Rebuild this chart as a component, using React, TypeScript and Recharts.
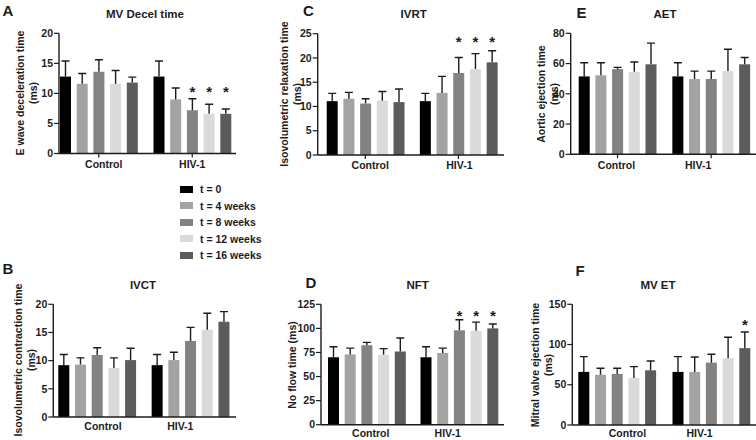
import React from "react";
import { BarChart, Bar, XAxis, YAxis } from "recharts";

const groups = ["Control", "HIV-1"];
const timeLabels = ["t = 0", "t = 4 weeks", "t = 8 weeks", "t = 12 weeks", "t = 16 weeks"];
const barColors = ["#000000", "#a3a3a3", "#838383", "#dadada", "#5c5c5c"];

// A: MV Decel time
const mvDecelControl = [12.8, 11.6, 13.6, 11.6, 11.8];
const mvDecelControlSd = [2.6, 1.7, 2.0, 2.2, 0.9];
const mvDecelHiv = [12.8, 9.0, 7.2, 6.6, 6.6];
const mvDecelHivSd = [2.6, 1.9, 1.9, 1.6, 0.8];
const mvDecelStars = [0, 0, 1, 1, 1];
const mvDecelTicks = [0, 5, 10, 15, 20];

// C: IVRT
const ivrtControl = [11.1, 11.6, 10.6, 11.2, 10.9];
const ivrtControlSd = [1.6, 1.3, 1.0, 1.9, 2.7];
const ivrtHiv = [11.1, 12.8, 16.9, 17.7, 19.1];
const ivrtHivSd = [1.6, 3.4, 3.2, 3.2, 2.4];
const ivrtStars = [0, 0, 1, 1, 1];
const ivrtTicks = [0, 5, 10, 15, 20, 25];

// E: AET
const aetControl = [51.5, 52.2, 56.3, 54.5, 59.5];
const aetControlSd = [9, 8.3, 1.2, 6.5, 14];
const aetHiv = [51.5, 49.8, 49.8, 55, 59.5];
const aetHivSd = [9, 5.2, 5.2, 14.5, 4.5];
const aetStars = [0, 0, 0, 0, 0];
const aetTicks = [0, 20, 40, 60, 80];

// B: IVCT
const ivctControl = [9.2, 9.3, 11.0, 8.7, 10.1];
const ivctControlSd = [1.9, 1.2, 1.3, 1.8, 2.1];
const ivctHiv = [9.2, 10.1, 13.5, 15.5, 16.9];
const ivctHivSd = [1.9, 1.4, 2.4, 2.9, 1.8];
const ivctStars = [0, 0, 1, 1, 1];
const ivctTicks = [0, 5, 10, 15, 20];

// D: NFT
const nftControl = [70, 73, 82.5, 72.5, 76];
const nftControlSd = [11, 6.5, 3, 6.5, 14];
const nftHiv = [70, 74.5, 98, 97.5, 100];
const nftHivSd = [11, 5, 11, 9, 4.5];
const nftStars = [0, 0, 1, 1, 1];
const nftTicks = [0, 25, 50, 75, 100, 125];

// F: MV ET
const mvEtControl = [66, 62.5, 63.5, 58.5, 68];
const mvEtControlSd = [19, 8, 7, 14, 11.5];
const mvEtHiv = [66, 66, 77.5, 83, 95.5];
const mvEtHivSd = [19, 18.5, 10.5, 26, 20];
const mvEtStars = [0, 0, 0, 0, 1];
const mvEtTicks = [0, 50, 100, 150];

const FONT = "'Liberation Sans', Arial, Helvetica, sans-serif";
const INK = "#1c1c1c";

function buildRows(ctrl: number[], ctrlSd: number[], hiv: number[], hivSd: number[], stars: number[]) {
  return groups.map((g, gi) => {
    const row: any = { group: g };
    const means = gi === 0 ? ctrl : hiv;
    const sds = gi === 0 ? ctrlSd : hivSd;
    timeLabels.forEach((_, i) => {
      row[`m${i}`] = means[i];
      row[`sd${i}`] = sds[i];
      row[`star${i}`] = gi === 1 ? stars[i] : 0;
    });
    return row;
  });
}

const makeShape = (i: number, starLevel: number, barTicks: boolean) => (props: any) => {
  const { x, y, width, height, payload, fill } = props;
  const value = payload[`m${i}`];
  const sd = payload[`sd${i}`];
  const ppu = value ? height / value : 0;
  const cx = x + width / 2;
  const yTop = y - sd * ppu;
  const base = y + height;
  const starY = base - starLevel * ppu;
  const fs = 15;
  return (
    <g>
      <rect x={x} y={y} width={width} height={height} fill={fill} />
      <line x1={cx} x2={cx} y1={y} y2={yTop} stroke={INK} strokeWidth={1.4} />
      <line x1={cx - 4} x2={cx + 4} y1={yTop} y2={yTop} stroke={INK} strokeWidth={1.4} />
      {barTicks ? <line x1={cx} x2={cx} y1={base} y2={base + 3.5} stroke={INK} strokeWidth={1} /> : null}
      {payload[`star${i}`] ? (
        <text x={cx} y={starY + 0.57 * fs} textAnchor="middle" fontSize={fs} fontWeight={700} fontFamily={FONT} fill={INK}>
          *
        </text>
      ) : null}
    </g>
  );
};

const makeTick = (shifts: number[]) => (props: any) => {
  const { x, y, payload, index } = props;
  return (
    <text
      x={x + (shifts[index] || 0)}
      y={y}
      dy="0.71em"
      textAnchor="middle"
      fontSize={10.5}
      fontWeight={700}
      fontFamily={FONT}
      fill={INK}
    >
      {payload.value}
    </text>
  );
};

type PanelProps = {
  left: number;
  top: number;
  width: number;
  height: number;
  plotLeft: number;
  plotRight: number;
  plotTop: number;
  plotBottom: number;
  rows: any[];
  ticks: number[];
  starLevel: number;
  padL: number;
  padR: number;
  labelShift: number[];
  groupTicks: boolean;
  barTicks: boolean;
  labelGap: number;
  title: string;
  titleX: number;
  titleY: number;
  letter: string;
  letterX: number;
  letterY: number;
  ylabel: string[];
  ylabelX: number;
  ylabelY: number;
};

const XAXIS_H = 24;

function Panel(p: PanelProps) {
  const yAxisW = p.plotLeft - p.left;
  const margin = {
    top: p.plotTop - p.top,
    right: p.left + p.width - p.plotRight,
    left: 0,
    bottom: p.top + p.height - p.plotBottom - XAXIS_H,
  };
  const txt: React.CSSProperties = { position: "absolute", fontFamily: FONT, fontWeight: 700, color: INK, whiteSpace: "nowrap" };
  return (
    <>
      <div style={{ position: "absolute", left: p.left, top: p.top }}>
        <BarChart width={p.width} height={p.height} data={p.rows} margin={margin} barSize={11} barGap={5.7}>
          <XAxis
            dataKey="group"
            height={XAXIS_H}
            padding={{ left: p.padL, right: p.padR }}
            axisLine={{ stroke: INK, strokeWidth: 1.4 }}
            tickLine={p.groupTicks ? { stroke: INK, strokeWidth: 1.2 } : false}
            tickSize={p.groupTicks ? 4 : 3}
            tickMargin={p.labelGap}
            tick={makeTick(p.labelShift)}
          />
          <YAxis
            width={yAxisW}
            domain={[p.ticks[0], p.ticks[p.ticks.length - 1]]}
            ticks={p.ticks}
            allowDataOverflow
            axisLine={{ stroke: INK, strokeWidth: 1.4 }}
            tickLine={{ stroke: INK, strokeWidth: 1.2 }}
            tickSize={5}
            tickMargin={1}
            tick={{ fontSize: 10.5, fontWeight: 700, fill: INK, fontFamily: FONT }}
          />
          {timeLabels.map((t, i) => (
            <Bar
              key={t}
              dataKey={`m${i}`}
              name={t}
              fill={barColors[i]}
              isAnimationActive={false}
              shape={makeShape(i, p.starLevel, p.barTicks)}
            />
          ))}
        </BarChart>
      </div>
      <div style={{ ...txt, left: p.titleX, top: p.titleY, fontSize: 11.5, transform: "translate(-50%,-50%)" }}>{p.title}</div>
      <div style={{ ...txt, left: p.letterX, top: p.letterY, fontSize: 15, transform: "translate(-50%,-50%)" }}>{p.letter}</div>
      <div
        style={{
          ...txt,
          left: p.ylabelX,
          top: p.ylabelY,
          fontSize: 10.5,
          lineHeight: "13px",
          textAlign: "center",
          transform: "translate(-50%,-50%) rotate(-90deg)",
        }}
      >
        {p.ylabel.map((l) => (
          <div key={l}>{l}</div>
        ))}
      </div>
    </>
  );
}

function Legend() {
  const rowY = [189, 205.7, 222.3, 238.7, 255];
  return (
    <>
      {timeLabels.map((t, i) => (
        <div key={t} style={{ position: "absolute", left: 180, top: rowY[i] - 7, height: 14, display: "flex", alignItems: "center" }}>
          <div style={{ width: 13, height: 7, background: barColors[i], marginRight: 7 }} />
          <span style={{ fontFamily: FONT, fontWeight: 700, fontSize: 10.5, color: INK, whiteSpace: "nowrap" }}>{t}</span>
        </div>
      ))}
    </>
  );
}

export default function App() {
  return (
    <div style={{ position: "absolute", left: 0, top: 0, width: 756, height: 440, background: "#fff", overflow: "hidden" }}>
      <Panel
        left={0} top={0} width={252} height={220}
        plotLeft={59} plotRight={236} plotTop={33.3} plotBottom={153.5}
        rows={buildRows(mvDecelControl, mvDecelControlSd, mvDecelHiv, mvDecelHivSd, mvDecelStars)}
        ticks={mvDecelTicks} starLevel={10.8} padL={-7} padR={-3}
        labelShift={[5, 0]} groupTicks={true} barTicks={false} labelGap={3}
        title="MV Decel time" titleX={145} titleY={14}
        letter="A" letterX={8} letterY={10}
        ylabel={["E wave deceleration time", "(ms)"]} ylabelX={26.5} ylabelY={93}
      />
      <Panel
        left={252} top={0} width={252} height={220}
        plotLeft={317.7} plotRight={504} plotTop={33.7} plotBottom={155}
        rows={buildRows(ivrtControl, ivrtControlSd, ivrtHiv, ivrtHivSd, ivrtStars)}
        ticks={ivrtTicks} starLevel={24.1} padL={1} padR={-1}
        labelShift={[5, 1]} groupTicks={true} barTicks={false} labelGap={3}
        title="IVRT" titleX={413.7} titleY={14}
        letter="C" letterX={308.5} letterY={10}
        ylabel={["Isovolumetric relaxation time", "(ms)"]} ylabelX={290.5} ylabelY={94}
      />
      <Panel
        left={504} top={0} width={252} height={220}
        plotLeft={570.7} plotRight={756} plotTop={33.3} plotBottom={154.3}
        rows={buildRows(aetControl, aetControlSd, aetHiv, aetHivSd, aetStars)}
        ticks={aetTicks} starLevel={0} padL={0} padR={-2}
        labelShift={[-1, -13]} groupTicks={true} barTicks={false} labelGap={3}
        title="AET" titleX={665} titleY={14}
        letter="E" letterX={581.5} letterY={12}
        ylabel={["Aortic ejection time", "(ms)"]} ylabelX={548} ylabelY={94}
      />
      <Panel
        left={0} top={220} width={252} height={220}
        plotLeft={53.3} plotRight={236} plotTop={304.3} plotBottom={417}
        rows={buildRows(ivctControl, ivctControlSd, ivctHiv, ivctHivSd, ivctStars)}
        ticks={ivctTicks} starLevel={20.8} padL={-3} padR={-1}
        labelShift={[6, -10]} groupTicks={false} barTicks={false} labelGap={3}
        title="IVCT" titleX={143} titleY={285}
        letter="B" letterX={8} letterY={268}
        ylabel={["Isovolumetric contraction time", "(ms)"]} ylabelX={24.5} ylabelY={360}
      />
      <Panel
        left={252} top={220} width={252} height={220}
        plotLeft={321} plotRight={506} plotTop={304.3} plotBottom={424.7}
        rows={buildRows(nftControl, nftControlSd, nftHiv, nftHivSd, nftStars)}
        ticks={nftTicks} starLevel={117} padL={0} padR={0}
        labelShift={[3.5, -12]} groupTicks={false} barTicks={true} labelGap={2}
        title="NFT" titleX={417.7} titleY={285}
        letter="D" letterX={311} letterY={281.7}
        ylabel={["No flow time (ms)"]} ylabelX={292} ylabelY={365}
      />
      <Panel
        left={504} top={220} width={252} height={220}
        plotLeft={572.3} plotRight={756} plotTop={304.3} plotBottom={425}
        rows={buildRows(mvEtControl, mvEtControlSd, mvEtHiv, mvEtHivSd, mvEtStars)}
        ticks={mvEtTicks} starLevel={128.7} padL={-2} padR={-2.7}
        labelShift={[10, -12]} groupTicks={false} barTicks={true} labelGap={2}
        title="MV ET" titleX={658} titleY={285}
        letter="F" letterX={580} letterY={270}
        ylabel={["Mitral valve ejection time", "(ms)"]} ylabelX={541.5} ylabelY={365}
      />
      <Legend />
    </div>
  );
}
